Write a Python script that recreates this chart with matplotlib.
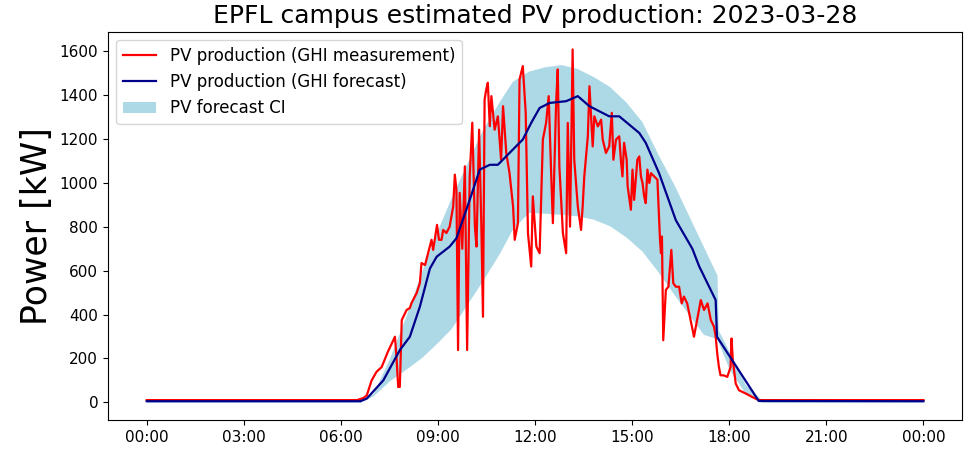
# plot.py
# EPFL campus - estimated PV production for 2023-03-28
# measured-GHI estimate vs forecast-GHI estimate with its CI band

import matplotlib
matplotlib.use('Agg')
import matplotlib.pyplot as plt
import matplotlib.dates as mdates
import pandas as pd


DIA = pd.Timestamp("2023-03-28")

# PV production from GHI measurement (hour of day, kW)
med_horas = [
    0.0, 6.5, 6.7, 6.8, 6.95, 7.1, 7.26, 7.45, 7.67, 7.72, 7.77, 7.82, 7.88,
    8.03, 8.13, 8.18, 8.34, 8.44, 8.49, 8.6, 8.8, 8.85, 8.97, 9.03, 9.11,
    9.16, 9.26, 9.36, 9.47, 9.52, 9.57, 9.62, 9.67, 9.75, 9.83, 9.9, 9.98,
    10.06, 10.14, 10.19, 10.27, 10.34, 10.39, 10.44, 10.49, 10.54, 10.6,
    10.65, 10.75, 10.85, 10.95, 11.01, 11.11, 11.21, 11.32, 11.37, 11.47,
    11.52, 11.62, 11.71, 11.78, 11.88, 11.93, 12.04, 12.14, 12.24, 12.34,
    12.42, 12.5, 12.55, 12.65, 12.7, 12.75, 12.86, 12.96, 13.01, 13.08,
    13.16, 13.21, 13.32, 13.42, 13.47, 13.52, 13.63, 13.68, 13.78, 13.83,
    13.94, 14.04, 14.09, 14.19, 14.29, 14.37, 14.42, 14.5, 14.6, 14.65,
    14.7, 14.75, 14.83, 14.86, 14.96, 15.01, 15.06, 15.16, 15.22, 15.27,
    15.32, 15.37, 15.42, 15.47, 15.53, 15.58, 15.68, 15.78, 15.86, 15.89,
    15.92, 15.96, 16.04, 16.12, 16.21, 16.27, 16.35, 16.45, 16.53, 16.6,
    16.7, 16.91, 17.12, 17.22, 17.33, 17.43, 17.53, 17.58, 17.63, 17.68,
    17.73, 17.83, 17.94, 18.04, 18.07, 18.11, 18.2, 18.3, 18.51, 18.71,
    18.91, 24.0,
]
med_kw = [
    10, 10, 20, 32, 100, 139, 161, 230, 299, 200, 70, 70, 375,
    421, 430, 452, 498, 544, 635, 626, 741, 695, 809, 741, 741,
    786, 772, 801, 893, 1038, 969, 238, 955, 700, 1076, 238, 1030,
    1275, 801, 710, 1243, 801, 390, 1380, 1426, 1457, 1259,
    1396, 1243, 1304, 1106, 1350, 1137, 1045, 893, 741, 817,
    1472, 1533, 1320, 771, 619, 939, 710, 680, 1198, 1274,
    1396, 1030, 817, 1366, 1518, 1076, 771, 680, 1274, 801,
    1609, 1106, 893, 786, 893, 1030, 1213, 1441, 1167, 1304,
    1258, 1289, 1198, 1137, 1167, 1320, 1106, 1198, 1213, 1106,
    1030, 1183, 1106, 985, 878, 1061, 923, 1106, 1121, 1030,
    1000, 939, 908, 1061, 1000, 1045, 1030, 1015, 741, 680,
    756, 283, 512, 527, 695, 543, 527, 527, 451, 482,
    451, 299, 466, 421, 451, 375, 344, 300, 220, 161,
    123, 123, 116, 161, 291, 192, 85, 55, 40, 24,
    10, 10,
]

# PV production from GHI forecast
pron_horas = [
    0.0, 6.6, 6.8, 7.31, 7.82, 8.13, 8.44, 8.75, 8.96, 9.36, 9.57, 9.98,
    10.29, 10.6, 10.85, 11.21, 11.62, 11.88, 12.14, 12.45, 12.96, 13.32,
    13.68, 14.29, 14.6, 15.22, 15.42, 15.83, 16.35, 16.86, 17.07, 17.58,
    17.62, 18.91, 24.0,
]
pron_kw = [
    5, 5, 17, 100, 238, 299, 436, 610, 664, 710, 748, 923,
    1061, 1083, 1083, 1137, 1198, 1274, 1342, 1365, 1373, 1396,
    1350, 1304, 1304, 1228, 1183, 1045, 830, 700, 620, 466,
    299, 6, 5,
]

# forecast confidence interval
ic_horas = [
    0.0, 6.6, 7.0, 7.5, 8.0, 8.5, 9.0, 9.4, 9.8, 10.4, 10.9, 11.3, 11.8,
    12.3, 12.8, 13.3, 13.8, 14.3, 14.8, 15.3, 15.8, 16.3, 16.8, 17.2,
    17.62, 17.66, 18.0, 18.5, 19.0, 24.0,
]
ic_sup = [
    12, 12, 40, 200, 390, 600, 790, 930, 1060, 1250, 1373, 1464, 1510,
    1530, 1540, 1522, 1485, 1440, 1370, 1280, 1130, 990, 835, 710,
    580, 330, 230, 80, 12, 12,
]
ic_inf = [
    0, 0, 30, 98, 150, 205, 275, 335, 425, 560, 680, 790, 866,
    862, 857, 850, 835, 805, 755, 690, 595, 490, 390, 310,
    290, 275, 150, 40, 0, 0,
]


def a_fechas(horas):
    return DIA + pd.to_timedelta(horas, unit="h")


fig = plt.figure(figsize=(9.72, 4.54), dpi=100)
ax = fig.add_axes([0.111, 0.075, 0.879, 0.855])

banda = ax.fill_between(a_fechas(ic_horas), ic_inf, ic_sup,
                        color="lightblue", label="PV forecast CI", lw=0)
l_med, = ax.plot(a_fechas(med_horas), med_kw, color="red", lw=1.6,
                 label="PV production (GHI measurement)")
l_pron, = ax.plot(a_fechas(pron_horas), pron_kw, color="darkblue", lw=1.6,
                  label="PV production (GHI forecast)")

ax.xaxis.set_major_locator(mdates.HourLocator(byhour=range(0, 24, 3)))
ax.xaxis.set_major_formatter(mdates.DateFormatter("%H:%M"))
ax.tick_params(labelsize=11)

ax.set_ylabel("Power [kW]", fontsize=25)
ax.set_title("EPFL campus estimated PV production: 2023-03-28", fontsize=18)

# leyenda en el orden del original: medicion, pronostico, banda
ax.legend(handles=[l_med, l_pron, banda], loc="upper left", fontsize=12)

fig.savefig("out.png", dpi=100)
